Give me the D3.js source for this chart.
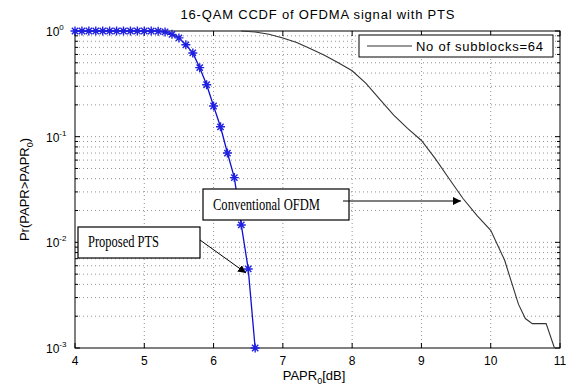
<!DOCTYPE html>
<html>
<head>
<meta charset="utf-8">
<script src="https://cdn.jsdelivr.net/npm/d3@7"></script>
<style>
  body { margin: 0; background: #fff; }
  text { font-family: "Liberation Sans", Arial, sans-serif; }
</style>
</head>
<body>
<div id="chart"></div>
<script>
// Proposed PTS (blue, star markers)
const ptsX = [4.0, 4.1, 4.2, 4.3, 4.4, 4.5, 4.6, 4.7, 4.8, 4.9, 5.0, 5.1, 5.2,
  5.3, 5.4, 5.5, 5.6, 5.7, 5.8, 5.9, 6.0, 6.1, 6.2, 6.3, 6.4, 6.5, 6.6];
const ptsY = [1, 1, 1, 1, 1, 1, 1, 1, 1, 1, 1, 1, 0.995,
  0.98, 0.93, 0.86, 0.74, 0.62, 0.45, 0.31, 0.195, 0.124, 0.07, 0.041, 0.0146, 0.0056, 0.001];

// Conventional OFDM (black)
const convX = [6.4, 6.6, 6.8, 7.0, 7.2, 7.4, 7.6, 7.8, 8.0, 8.2, 8.4, 8.6, 8.8, 9.0,
  9.2, 9.4, 9.6, 9.8, 10.0, 10.2, 10.3, 10.4, 10.5, 10.6, 10.8, 10.92];
const convY = [1, 0.98, 0.93, 0.86, 0.78, 0.68, 0.59, 0.5, 0.42, 0.32, 0.225, 0.16, 0.12, 0.092,
  0.062, 0.04, 0.026, 0.018, 0.013, 0.0068, 0.0042, 0.0026, 0.0019, 0.0017, 0.0017, 0.001];

const xTicks = [4, 5, 6, 7, 8, 9, 10, 11];
const yExps = [0, -1, -2, -3];

const titleText = "16-QAM CCDF of OFDMA signal with PTS";
const legendText = "No of subblocks=64";

const W = 568, H = 385;
const pLeft = 75, pRight = 560, pTop = 31, pBottom = 348;

const svg = d3.select("#chart").append("svg")
  .attr("width", W).attr("height", H);

const x = d3.scaleLinear().domain([4, 11]).range([pLeft, pRight]);
const y = d3.scaleLog().domain([1e-3, 1]).range([pBottom, pTop]);

// minor y values (2..9 per decade)
const yMinor = [];
yExps.slice(1).forEach(e => {
  for (let k = 2; k <= 9; k++) yMinor.push(k * Math.pow(10, e));
});
const yMajor = yExps.map(e => Math.pow(10, e));

// grid
const grid = svg.append("g")
  .attr("stroke", "#777").attr("stroke-width", 0.8)
  .attr("stroke-dasharray", "1,3");
grid.selectAll(".gx").data(xTicks.slice(1, -1)).enter().append("line")
  .attr("x1", d => x(d)).attr("x2", d => x(d))
  .attr("y1", pTop).attr("y2", pBottom);
grid.selectAll(".gy").data(yMinor.concat(yMajor.slice(1, -1))).enter().append("line")
  .attr("x1", pLeft).attr("x2", pRight)
  .attr("y1", d => y(d)).attr("y2", d => y(d));

// ticks, inside on all sides
const tk = svg.append("g").attr("stroke", "#000").attr("stroke-width", 1);
xTicks.forEach(v => {
  tk.append("line").attr("x1", x(v)).attr("x2", x(v)).attr("y1", pBottom).attr("y2", pBottom - 5);
  tk.append("line").attr("x1", x(v)).attr("x2", x(v)).attr("y1", pTop).attr("y2", pTop + 5);
});
yMajor.concat(yMinor).forEach(v => {
  const len = yMajor.includes(v) ? 5 : 3;
  tk.append("line").attr("x1", pLeft).attr("x2", pLeft + len).attr("y1", y(v)).attr("y2", y(v));
  tk.append("line").attr("x1", pRight).attr("x2", pRight - len).attr("y1", y(v)).attr("y2", y(v));
});

// plot box
svg.append("rect")
  .attr("x", pLeft).attr("y", pTop)
  .attr("width", pRight - pLeft).attr("height", pBottom - pTop)
  .attr("fill", "none").attr("stroke", "#000").attr("stroke-width", 1);

// tick labels
svg.selectAll(".xl").data(xTicks).enter().append("text")
  .attr("x", d => x(d)).attr("y", 365)
  .attr("text-anchor", "middle").attr("font-size", 12)
  .text(d => d);

yExps.forEach(e => {
  const t = svg.append("text")
    .attr("x", 46).attr("y", y(Math.pow(10, e)) + 5)
    .attr("font-size", 12);
  t.append("tspan").text("10");
  t.append("tspan").attr("dy", -6).attr("font-size", 8).text(e);
});

// title
svg.append("text")
  .attr("x", (pLeft + pRight) / 2).attr("y", 19)
  .attr("text-anchor", "middle").attr("font-size", 13)
  .attr("textLength", 274).attr("lengthAdjust", "spacing")
  .text(titleText);

// x label
const xl = svg.append("text")
  .attr("x", 314).attr("y", 380)
  .attr("text-anchor", "middle").attr("font-size", 13);
xl.append("tspan").text("PAPR");
xl.append("tspan").attr("dy", 4).attr("font-size", 9).text("0");
xl.append("tspan").attr("dy", -4).text("[dB]");

// y label
const yl = svg.append("text")
  .attr("transform", `translate(29, ${(pTop + pBottom) / 2}) rotate(-90)`)
  .attr("text-anchor", "middle").attr("font-size", 13);
yl.append("tspan").text("Pr(PAPR>PAPR");
yl.append("tspan").attr("dy", 4).attr("font-size", 9).text("0");
yl.append("tspan").attr("dy", -4).text(")");

// lines
svg.append("clipPath").attr("id", "clip")
  .append("rect").attr("x", pLeft).attr("y", pTop - 1)
  .attr("width", pRight - pLeft).attr("height", pBottom - pTop + 2);

const line = d3.line().x(d => x(d[0])).y(d => y(d[1]));

const convData = convX.map((v, i) => [v, convY[i]]);
const ptsData = ptsX.map((v, i) => [v, ptsY[i]]);

svg.append("path").datum(convData)
  .attr("clip-path", "url(#clip)")
  .attr("d", line).attr("fill", "none")
  .attr("stroke", "#333").attr("stroke-width", 1.1);

svg.append("path").datum(ptsData)
  .attr("d", line).attr("fill", "none")
  .attr("stroke", "#1010d0").attr("stroke-width", 1.3);

// star markers
const r = 4.5;
const star = `M${-r},0L${r},0M0,${-r}L0,${r}M${-r * 0.7},${-r * 0.7}L${r * 0.7},${r * 0.7}M${-r * 0.7},${r * 0.7}L${r * 0.7},${-r * 0.7}`;
svg.selectAll(".mk").data(ptsData).enter().append("path")
  .attr("transform", d => `translate(${x(d[0])},${y(d[1])})`)
  .attr("d", star).attr("fill", "none")
  .attr("stroke", "#2020e0").attr("stroke-width", 1.4);

// legend
const lg = svg.append("g");
lg.append("rect").attr("x", 359).attr("y", 35).attr("width", 194).attr("height", 22)
  .attr("fill", "#fff").attr("stroke", "#000").attr("stroke-width", 1);
lg.append("line").attr("x1", 367).attr("x2", 412).attr("y1", 46).attr("y2", 46)
  .attr("stroke", "#333").attr("stroke-width", 1.1);
lg.append("text").attr("x", 416).attr("y", 51).attr("font-size", 13)
  .attr("textLength", 127).attr("lengthAdjust", "spacing")
  .text(legendText);

// arrow head
svg.append("defs").append("marker")
  .attr("id", "head").attr("viewBox", "0 0 10 10")
  .attr("refX", 10).attr("refY", 5)
  .attr("markerWidth", 8).attr("markerHeight", 8)
  .attr("markerUnits", "userSpaceOnUse")
  .attr("orient", "auto")
  .append("path").attr("d", "M0,0L10,5L0,10Z").attr("fill", "#000");

// annotation boxes
function note(bx, by, bw, bh, tx, ty, tlen, label) {
  svg.append("rect").attr("x", bx).attr("y", by).attr("width", bw).attr("height", bh)
    .attr("fill", "#fff").attr("stroke", "#000").attr("stroke-width", 1.2);
  svg.append("text").attr("x", tx).attr("y", ty)
    .style("font-family", "'Liberation Serif', 'Times New Roman', serif")
    .attr("font-size", 16)
    .attr("textLength", tlen).attr("lengthAdjust", "spacingAndGlyphs")
    .text(label);
}

note(203, 189, 146, 31, 213, 210, 107, "Conventional OFDM");
svg.append("line").attr("x1", 343).attr("y1", 201).attr("x2", 461).attr("y2", 201)
  .attr("stroke", "#000").attr("stroke-width", 1).attr("marker-end", "url(#head)");

note(78, 227, 122, 31, 88, 247, 71, "Proposed PTS");
svg.append("line").attr("x1", 200).attr("y1", 240).attr("x2", 246).attr("y2", 273)
  .attr("stroke", "#000").attr("stroke-width", 1).attr("marker-end", "url(#head)");
</script>
</body>
</html>
